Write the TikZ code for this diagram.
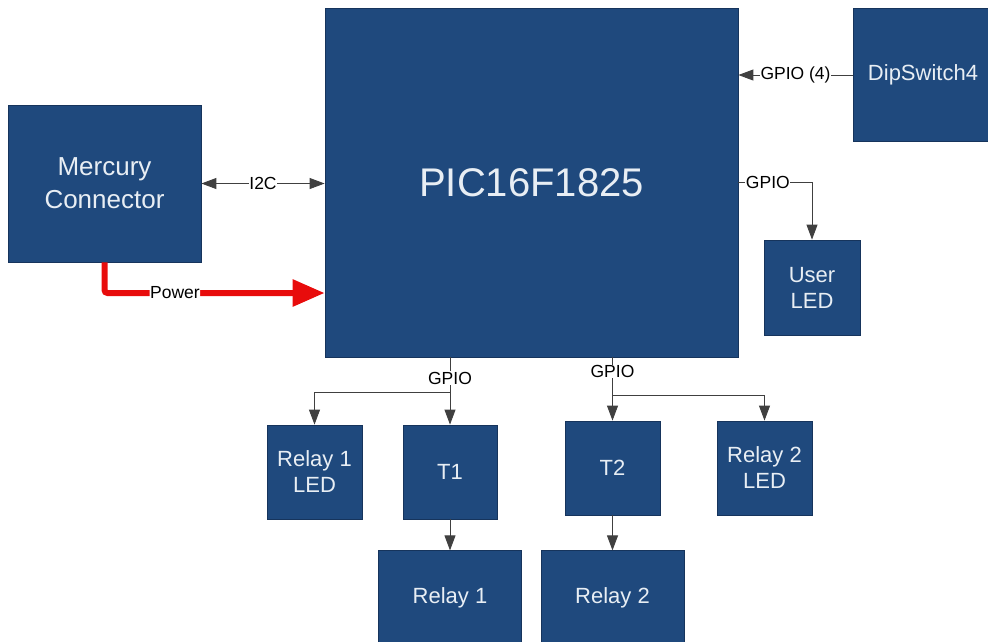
\documentclass[tikz,border=0pt]{standalone}
\usepackage{fontspec}
\setmainfont{Liberation Sans}
\usetikzlibrary{positioning,arrows.meta}
\definecolor{blockfill}{RGB}{31,73,125}
\definecolor{blockline}{RGB}{22,52,92}
\definecolor{blocktext}{RGB}{232,238,244}
\definecolor{powerred}{RGB}{232,12,12}
\tikzset{
        block/.style={draw=blockline, line width=0.8pt, fill=blockfill, text=blocktext, align=center, inner sep=0pt, font=\fontsize{22}{26}\selectfont},
        sig/.style={draw=black!75, line width=0.9pt, -{Triangle[length=15pt,width=11pt]}},
        wire/.style={draw=black!75, line width=0.9pt},
        lbl/.style={fill=white, inner sep=0.5pt, font=\fontsize{17.5}{19}\selectfont},
    }

\begin{document}
\begin{tikzpicture}[x=1pt, y=-1pt]
        \useasboundingbox (0,0) rectangle (988,641);

        % Blocchi principali
        \node[block, minimum width=413pt, minimum height=349pt, font=\fontsize{40}{46}\selectfont] (pic) at (531.5,182.5) {PIC16F1825};
        \node[block, minimum width=193pt, minimum height=157pt, font=\fontsize{26}{33}\selectfont] (mercury) at (104.5,183.5) {Mercury\\Connector};
        \node[block, minimum width=140pt, minimum height=133pt] (dipsw) at (923,75) {DipSwitch4};
        \node[block, minimum width=96pt, minimum height=95pt] (userled) at (812,287.5) {User\\LED};

        % Ramo sinistro
        \node[block, minimum width=95pt, minimum height=94pt] (relayoneled) at (314.5,472) {Relay 1\\LED};
        \node[block, minimum width=94pt, minimum height=94pt] (tone) at (450,472) {T1};
        \node[block, minimum width=143pt, minimum height=94pt, below=31pt of tone] (relayone) {Relay 1};

        % Ramo destro
        \node[block, minimum width=95pt, minimum height=94pt] (ttwo) at (612.5,468) {T2};
        \node[block, minimum width=95pt, minimum height=94pt] (relaytwoled) at (764.5,468) {Relay 2\\LED};
        \node[block, minimum width=143pt, minimum height=94pt, below=35pt of ttwo] (relaytwo) {Relay 2};

        % Punti di diramazione
        \coordinate (splitone) at (tone.north |- 0,392);
        \coordinate (splittwo) at (ttwo.north |- 0,395);
        \coordinate (pwrin) at (pic.west |- 0,293);

        % Collegamenti
        \draw[sig, {Triangle[length=15pt,width=11pt]}-{Triangle[length=15pt,width=11pt]}] (mercury.east) -- node[lbl]{I2C} (pic.west |- mercury.east);
        \draw[sig] (dipsw.west) -- node[lbl]{GPIO (4)} (pic.east |- dipsw.west);
        \draw[sig] (pic.east) -| node[lbl, pos=0.2]{GPIO} (userled.north);
        \draw[powerred, line width=6pt, rounded corners=3pt, -{Triangle[length=32pt,width=26pt]}] (mercury.south) |- node[lbl, text=black, pos=0.66]{Power} (pwrin);

        \draw[wire] (tone.north |- pic.south) -- node[lbl, pos=0.6]{GPIO} (splitone);
        \draw[sig] (splitone) -- (tone.north);
        \draw[sig] (splitone) -| (relayoneled.north);
        \draw[sig] (tone.south) -- (relayone.north);

        \draw[wire] (ttwo.north |- pic.south) -- node[lbl, pos=0.37]{GPIO} (splittwo);
        \draw[sig] (splittwo) -- (ttwo.north);
        \draw[sig] (splittwo) -| (relaytwoled.north);
        \draw[sig] (ttwo.south) -- (relaytwo.north);

    \end{tikzpicture}
\end{document}
